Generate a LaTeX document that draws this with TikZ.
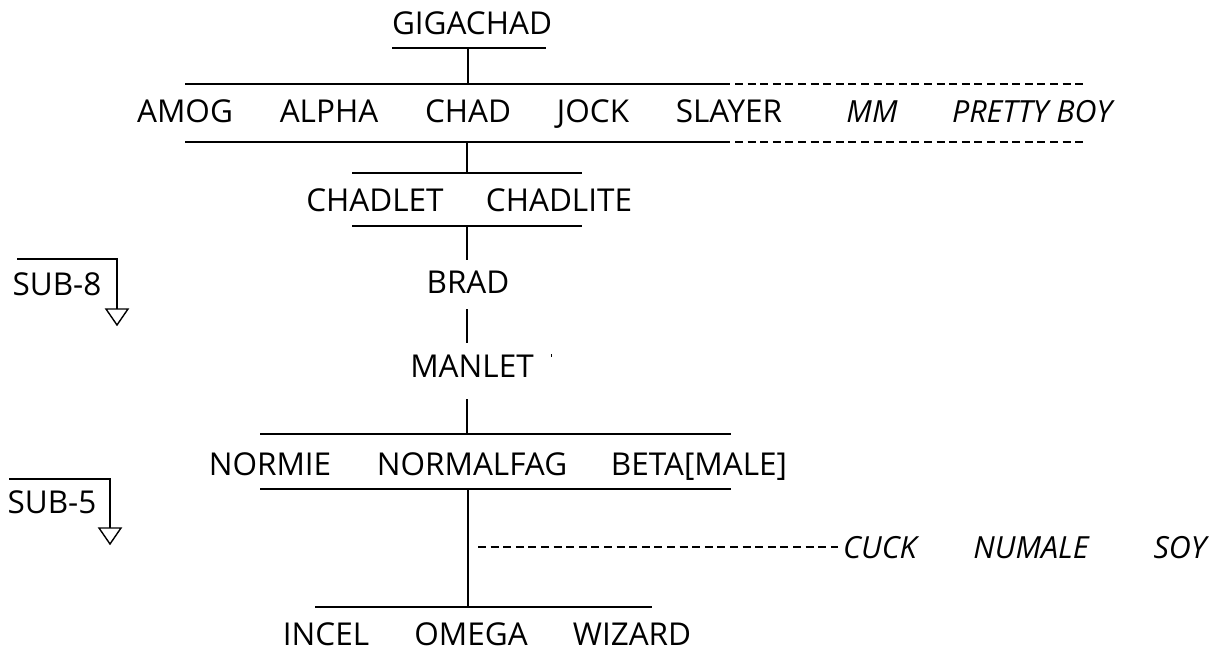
\documentclass[tikz,border=0pt]{standalone}
\usepackage{fontspec}
\setmainfont{Open Sans}
\begin{document}
\begin{tikzpicture}[x=1pt,y=-1pt,
  lbl/.style={inner sep=0pt,anchor=base,font=\fontsize{31.5}{36}\selectfont},
  ilbl/.style={lbl,font=\fontsize{30.5}{36}\selectfont\itshape},
  bar/.style={line width=2.2pt},
  dsh/.style={line width=1.9pt,dash pattern=on 8pt off 4.6pt},
  tri/.style={line width=1.4pt}]
\useasboundingbox (0,0) rectangle (1228,652);
% labels
\node[lbl] (giga) at (472,35) {GIGACHAD};
\node[lbl] (amog) at (185,123) {AMOG};
\node[lbl] (alpha) at (329,123) {ALPHA};
\node[lbl] (chad) at (468,123) {CHAD};
\node[lbl] (jock) at (593,123) {JOCK};
\node[lbl] (slayer) at (729,123) {SLAYER};
\node[ilbl] (mm) at (872,123) {MM};
\node[ilbl] (pretty) at (1032,123) {PRETTY BOY};
\node[lbl] (chadlet) at (375,212) {CHADLET};
\node[lbl] (chadlite) at (559,212) {CHADLITE};
\node[lbl] (brad) at (468,293) {BRAD};
\node[lbl] (manlet) at (472,377) {MANLET};
\node[lbl] (normie) at (270,475) {NORMIE};
\node[lbl] (normalfag) at (472,475) {NORMALFAG};
\node[lbl] (beta) at (699,475) {BETA[MALE]};
\node[ilbl] (cuck) at (880,558) {CUCK};
\node[ilbl] (numale) at (1031,558) {NUMALE};
\node[ilbl] (soy) at (1180,558) {SOY};
\node[lbl] (incel) at (326,645) {INCEL};
\node[lbl] (omega) at (471,645) {OMEGA};
\node[lbl] (wizard) at (632,645) {WIZARD};
\node[lbl] (sub8) at (57,295) {SUB-8};
\node[lbl] (sub5) at (52,513) {SUB-5};
% bar coordinates
\coordinate (g1) at (392,48); \coordinate (g2) at (546,48); \coordinate (gm) at (468,48);
\coordinate (r1a) at (185,84); \coordinate (r1b) at (730,84); \coordinate (r1c) at (735,84); \coordinate (r1d) at (1085,84); \coordinate (r1m) at (468,84);
\coordinate (r2a) at (185,142); \coordinate (r2b) at (730,142); \coordinate (r2c) at (735,142); \coordinate (r2d) at (1085,142); \coordinate (r2m) at (467,142);
\coordinate (c1a) at (352,173); \coordinate (c1b) at (582,173); \coordinate (c1m) at (467,173);
\coordinate (c2a) at (352,226); \coordinate (c2b) at (582,226); \coordinate (c2m) at (467,226);
\coordinate (bt) at (467,260);
\coordinate (bm1) at (467,309); \coordinate (bm2) at (467,343);
\coordinate (m1) at (467,399);
\coordinate (n1a) at (260,434); \coordinate (n1b) at (731,434); \coordinate (n1m) at (467,434);
\coordinate (n2a) at (260,489); \coordinate (n2b) at (731,489); \coordinate (n2m) at (468,489);
\coordinate (d1) at (478,547); \coordinate (d2) at (838,547);
\coordinate (i1a) at (315,607); \coordinate (i1b) at (652,607); \coordinate (i1m) at (468,607);
% bars
\draw[bar] (g1) -- (g2);
\draw[bar] (gm) -- (r1m);
\draw[bar] (r1a) -- (r1b);
\draw[dsh] (r1c) -- (r1d);
\draw[bar] (r2a) -- (r2b);
\draw[dsh] (r2c) -- (r2d);
\draw[bar] (r2m) -- (c1m);
\draw[bar] (c1a) -- (c1b);
\draw[bar] (c2a) -- (c2b);
\draw[bar] (c2m) -- (bt);
\draw[bar] (bm1) -- (bm2);
\draw[bar] (m1) -- (n1m);
\draw[bar] (n1a) -- (n1b);
\draw[bar] (n2a) -- (n2b);
\draw[bar] (n2m) -- (i1m);
\draw[dsh] (d1) -- (d2);
\draw[bar] (i1a) -- (i1b);
% stray tick
\coordinate (t1) at (551,354); \coordinate (t2) at (551,357);
\draw[line width=1pt] (t1) -- (t2);
% SUB markers
\coordinate (s8a) at (17,259); \coordinate (s8b) at (117,259); \coordinate (s8c) at (117,309);
\draw[bar] (s8a) -- (s8b) -- (s8c);
\draw[tri] (106,309) -- (128,309) -- (117,325) -- cycle;
\coordinate (s5a) at (9,479); \coordinate (s5b) at (110,479); \coordinate (s5c) at (110,528);
\draw[bar] (s5a) -- (s5b) -- (s5c);
\draw[tri] (99,528) -- (121,528) -- (110,544) -- cycle;
\end{tikzpicture}
\end{document}
